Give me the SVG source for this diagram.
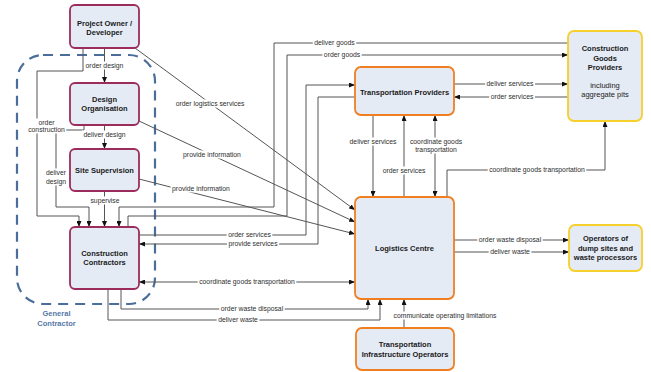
<svg xmlns="http://www.w3.org/2000/svg" width="651" height="372" viewBox="0 0 651 372">
<defs>
<marker id="ah" markerWidth="6" markerHeight="5" refX="6" refY="2.5" orient="auto-start-reverse" markerUnits="userSpaceOnUse"><path d="M0,0 L6,2.5 L0,5 z" fill="#111"/></marker>
<style>
.n rect{fill:#e5ebf5;stroke-width:1.8}
.p rect{stroke:#9c2c5c}
.o rect{stroke:#f07f22}
.y rect{stroke:#f6d02c}
.t{font-family:"Liberation Sans",Arial,sans-serif;font-size:7.5px;font-weight:bold;fill:#1a1a1a;text-anchor:middle}
.tr{font-weight:normal}
#connectors line,#connectors polyline{fill:none;stroke:#555;stroke-width:1}
.a{marker-end:url(#ah)}
.b{marker-start:url(#ah);marker-end:url(#ah)}
.bg{fill:#fff}
.l{font-family:"Liberation Sans",Arial,sans-serif;font-size:6.8px;fill:#2e2e2e;text-anchor:middle}
.gc{fill:none;stroke:#4a6d9a;stroke-width:2.2;stroke-dasharray:10 7}
.gct{font-family:"Liberation Sans",Arial,sans-serif;font-size:7.5px;font-weight:bold;fill:#5678a6;text-anchor:middle}
</style>
</defs>
<rect width="651" height="372" fill="#fff"/>

<g id="general-contractor">
<rect class="gc" x="17" y="55" width="138" height="249" rx="26"/>
<text class="gct" x="56.5" y="316">General</text>
<text class="gct" x="56.5" y="326">Contractor</text>
</g>

<g id="connectors">
<line class="a" x1="104.5" y1="48" x2="104.5" y2="83"/>
<polyline class="a" points="83,48 83,71 37,71 37,216 79,216 79,227"/>
<line class="a" x1="104.5" y1="125" x2="104.5" y2="149"/>
<polyline class="a" points="84,125 84,130 56,130 56,207 89,207 89,227"/>
<line class="a" x1="104.5" y1="191" x2="104.5" y2="227"/>
<polyline class="a" points="568,43 274,43 274,207 119,207 119,227"/>
<polyline class="a" points="128,227 128,216 287,216 287,55 568,55"/>
<polyline class="a" points="139,235 306,235 306,85 355,85"/>
<polyline class="a" points="355,97 318,97 318,244 139,244"/>
<line class="b" x1="139" y1="282" x2="355" y2="282"/>
<polyline class="a" points="121,289 121,309 368,309 368,299"/>
<polyline class="a" points="108,289 108,320 380,320 380,299"/>
<line class="a" x1="404" y1="328" x2="404" y2="299"/>
<line class="a" x1="454" y1="240" x2="569" y2="240"/>
<line class="a" x1="454" y1="252" x2="569" y2="252"/>
<line class="a" x1="454" y1="84" x2="568" y2="84"/>
<line class="a" x1="568" y1="97" x2="454" y2="97"/>
<line class="a" x1="373" y1="115" x2="373" y2="197"/>
<line class="a" x1="404" y1="197" x2="404" y2="115"/>
<line class="b" x1="435" y1="115" x2="435" y2="197"/>
<polyline class="a" points="447,197 447,170 605,170 605,121"/>
<line class="a" x1="135" y1="48" x2="355" y2="210"/>
<line class="a" x1="139" y1="121" x2="355" y2="222"/>
<line class="a" x1="139" y1="179" x2="355" y2="234"/>

<rect class="bg" x="84.1" y="61.5" width="40.8" height="8"/><text class="l" x="104.5" y="68.4">order design</text>
<rect class="bg" x="26.6" y="118.5" width="39.7" height="15"/><text class="l" x="46.5" y="125.4">order</text><text class="l" x="46.5" y="132.4">construction</text>
<rect class="bg" x="82" y="130.5" width="45" height="8"/><text class="l" x="104.5" y="137.4">deliver design</text>
<rect class="bg" x="44.5" y="168.5" width="23" height="17"/><text class="l" x="56" y="175.4">deliver</text><text class="l" x="56" y="184.4">design</text>
<rect class="bg" x="89" y="196.5" width="32" height="8"/><text class="l" x="105" y="203.4">supervise</text>
<rect class="bg" x="174.1" y="99.5" width="71.8" height="8"/><text class="l" x="210" y="106.4">order logistics services</text>
<rect class="bg" x="181.6" y="150.5" width="60.8" height="8"/><text class="l" x="212" y="157.4">provide information</text>
<rect class="bg" x="170.6" y="184.5" width="60.8" height="8"/><text class="l" x="201" y="191.4">provide information</text>
<rect class="bg" x="312.8" y="38.5" width="43.4" height="8"/><text class="l" x="334.5" y="45.4">deliver goods</text>
<rect class="bg" x="322.4" y="50.5" width="39.3" height="8"/><text class="l" x="342" y="57.4">order goods</text>
<rect class="bg" x="226.6" y="230.5" width="45.7" height="8"/><text class="l" x="249.5" y="237.4">order services</text>
<rect class="bg" x="227" y="239.5" width="52.1" height="8"/><text class="l" x="253" y="246.4">provide services</text>
<rect class="bg" x="197.7" y="277.5" width="98.6" height="8"/><text class="l" x="247" y="284.4">coordinate goods transportation</text>
<rect class="bg" x="219.3" y="304.5" width="65.4" height="8"/><text class="l" x="252" y="311.4">order waste disposal</text>
<rect class="bg" x="216.7" y="315.5" width="42.7" height="8"/><text class="l" x="238" y="322.4">deliver waste</text>
<rect class="bg" x="348.1" y="137.5" width="49.9" height="8"/><text class="l" x="373" y="144.4">deliver services</text>
<rect class="bg" x="381.2" y="166.5" width="45.7" height="8"/><text class="l" x="404" y="173.4">order services</text>
<rect class="bg" x="408.4" y="137.5" width="55.2" height="16"/><text class="l" x="436" y="144.4">coordinate goods</text><text class="l" x="436" y="152.4">transportation</text>
<rect class="bg" x="487.7" y="165.5" width="98.6" height="8"/><text class="l" x="537" y="172.4">coordinate goods transportation</text>
<rect class="bg" x="485.1" y="79.5" width="49.9" height="8"/><text class="l" x="510" y="86.4">deliver services</text>
<rect class="bg" x="489.2" y="92.5" width="45.7" height="8"/><text class="l" x="512" y="99.4">order services</text>
<rect class="bg" x="477.3" y="235.5" width="65.4" height="8"/><text class="l" x="510" y="242.4">order waste disposal</text>
<rect class="bg" x="488.7" y="247.5" width="42.7" height="8"/><text class="l" x="510" y="254.4">deliver waste</text>
<rect class="bg" x="392.1" y="311.5" width="105.8" height="8"/><text class="l" x="445" y="318.4">communicate operating limitations</text>
</g>

<g id="project-owner" class="n p"><rect x="70" y="5" width="69" height="43" rx="5"/><text class="t" x="104.5" y="26">Project Owner /</text><text class="t" x="104.5" y="35">Developer</text></g>
<g id="design-organisation" class="n p"><rect x="70" y="83" width="69" height="42" rx="5"/><text class="t" x="104.5" y="102">Design</text><text class="t" x="104.5" y="111">Organisation</text></g>
<g id="site-supervision" class="n p"><rect x="70" y="149" width="69" height="42" rx="5"/><text class="t" x="104.5" y="173">Site Supervision</text></g>
<g id="construction-contractors" class="n p"><rect x="70" y="227" width="69" height="62" rx="5"/><text class="t" x="104.5" y="256">Construction</text><text class="t" x="104.5" y="265">Contractors</text></g>
<g id="transportation-providers" class="n o"><rect x="355" y="67" width="99" height="48" rx="6"/><text class="t" x="404.5" y="95">Transportation Providers</text></g>
<g id="logistics-centre" class="n o"><rect x="355" y="197" width="99" height="102" rx="6"/><text class="t" x="404.5" y="251">Logistics Centre</text></g>
<g id="transportation-infrastructure-operators" class="n o"><rect x="356" y="328" width="98" height="42" rx="6"/><text class="t" x="405" y="347">Transportation</text><text class="t" x="405" y="357">Infrastructure Operators</text></g>
<g id="construction-goods-providers" class="n y"><rect x="568" y="31" width="74" height="90" rx="6"/><text class="t" x="605" y="51">Construction</text><text class="t" x="605" y="60.5">Goods</text><text class="t" x="605" y="70">Providers</text><text class="t tr" x="605" y="88">including</text><text class="t tr" x="605" y="97">aggregate pits</text></g>
<g id="dump-site-operators" class="n y"><rect x="569" y="225" width="73" height="46" rx="6"/><text class="t" x="605.5" y="241">Operators of</text><text class="t" x="605.5" y="250.5">dump sites and</text><text class="t" x="605.5" y="260">waste processors</text></g>
</svg>
